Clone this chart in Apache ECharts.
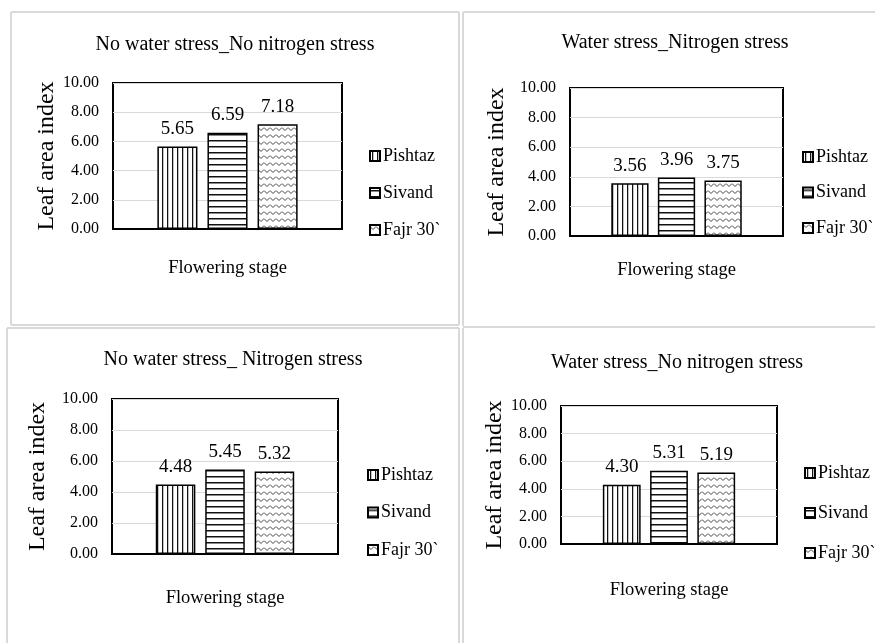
<!DOCTYPE html>
<html><head><meta charset="utf-8">
<script src="https://cdn.jsdelivr.net/npm/echarts@6/dist/echarts.min.js"></script>
<style>html,body{margin:0;padding:0;background:#fff}#c{width:875px;height:643px}</style>
</head><body><div id="c"></div>
<script>
// ---- data ----
const varieties = ['Pishtaz', 'Sivand', 'Fajr 30`'];
const panelTitles = ['No water stress_No nitrogen stress', 'Water stress_Nitrogen stress', 'No water stress_ Nitrogen stress', 'Water stress_No nitrogen stress'];
const stage = ['Flowering stage'];
const yName = 'Leaf area index';
const pishtaz = [5.65, 3.56, 4.48, 4.30];
const sivand = [6.59, 3.96, 5.45, 5.31];
const fajr = [7.18, 3.75, 5.32, 5.19];
const yMin = 0, yMax = 10, yStep = 2;

// ---- layout (positions only) ----
const layout = [
  {grid: {left: 113, top: 83, width: 229, height: 146}, tx: 235, ty: 35, yGap: 53, xGap: 30, lx: 369, ly: 147, lg: 19},
  {grid: {left: 570, top: 88, width: 213, height: 148}, tx: 675, ty: 33, yGap: 61, xGap: 25, lx: 802, ly: 148, lg: 17.5},
  {grid: {left: 112, top: 399, width: 226, height: 155}, tx: 233, ty: 350, yGap: 62, xGap: 35, lx: 367, ly: 466, lg: 19.5},
  {grid: {left: 561, top: 406, width: 216, height: 138}, tx: 677, ty: 353, yGap: 54, xGap: 37, lx: 804, ly: 464, lg: 22}
];
const FONT = "'Liberation Serif', 'Times New Roman', serif";

// ---- fill patterns ----
function mk(w, h, draw) {
  const c = document.createElement('canvas'); c.width = w; c.height = h;
  const g = c.getContext('2d'); g.fillStyle = '#fff'; g.fillRect(0, 0, w, h); draw(g); return c;
}
const patV = mk(5, 4, g => { g.fillStyle = '#111'; g.fillRect(2, 0, 1, 4); g.fillStyle = '#999'; g.fillRect(3, 0, 0.6, 4); });
const patH = mk(4, 6, g => { g.fillStyle = '#111'; g.fillRect(0, 2, 4, 1); g.fillStyle = '#888'; g.fillRect(0, 3, 4, 1); });
const patZ = mk(6, 7, g => { g.strokeStyle = '#444'; g.lineWidth = 1; g.beginPath(); g.moveTo(0, 1.5); g.lineTo(3, 4.5); g.lineTo(6, 1.5); g.stroke(); });
const pats = [patV, patH, patZ];
const values = [pishtaz, sivand, fajr];

const option = {
  backgroundColor: '#fff',
  animation: false,
  title: [], grid: [], xAxis: [], yAxis: [], legend: [], series: [],
  graphic: []
};
const lineStyle = {stroke: '#d9d9d9', lineWidth: 2};
[[11, 12, 459, 12], [11, 12, 11, 325], [11, 325, 459, 325], [459, 12, 459, 325],
 [463, 12, 880, 12], [463, 12, 463, 326], [463, 327, 880, 327],
 [7, 328, 459, 328], [7, 328, 7, 650], [459, 328, 459, 650], [463, 328, 463, 650]
].forEach(s => option.graphic.push({type: 'line', shape: {x1: s[0], y1: s[1], x2: s[2], y2: s[3]}, style: lineStyle, silent: true}));

layout.forEach((L, i) => {
  option.title.push({text: panelTitles[i], left: L.tx, top: L.ty, textAlign: 'center', padding: 0,
    textStyle: {fontFamily: FONT, fontSize: 20, fontWeight: 'normal', color: '#000'}});
  option.grid.push(Object.assign({show: true, borderColor: '#000', borderWidth: 2, backgroundColor: '#fff', containLabel: false}, L.grid));
  option.xAxis.push({type: 'category', gridIndex: i, data: stage, name: stage[0], nameLocation: 'middle', nameGap: L.xGap,
    nameTextStyle: {fontFamily: FONT, fontSize: 18.5, color: '#000'},
    axisLabel: {show: false}, axisTick: {show: false}, axisLine: {lineStyle: {color: '#000', width: 2}}});
  option.yAxis.push({type: 'value', gridIndex: i, min: yMin, max: yMax, interval: yStep, name: yName, nameLocation: 'middle', nameGap: L.yGap,
    nameTextStyle: {fontFamily: FONT, fontSize: 24, color: '#000'},
    axisLabel: {formatter: v => v.toFixed(2), fontFamily: FONT, fontSize: 16, color: '#000', margin: 14},
    axisLine: {show: false}, axisTick: {show: false}, splitLine: {lineStyle: {color: '#d9d9d9', width: 1}}});
  option.legend.push({data: varieties, orient: 'vertical', left: L.lx, top: L.ly, itemGap: L.lg, itemWidth: 10, itemHeight: 10, padding: 0,
    icon: 'rect', textStyle: {fontFamily: FONT, fontSize: 18, color: '#000', padding: [0, 0, 0, -2]}, selectedMode: false});
  varieties.forEach((name, k) => {
    option.series.push({type: 'bar', name: name, xAxisIndex: i, yAxisIndex: i, data: [values[k][i]],
      barWidth: '17.5%', barGap: '25%',
      itemStyle: {color: {image: pats[k], repeat: 'repeat'}, borderColor: '#000', borderWidth: 1.5},
      label: {show: true, position: 'top', distance: 8, formatter: p => p.value.toFixed(2), fontFamily: FONT, fontSize: 19, color: '#000'}});
  });
});

const chart = echarts.init(document.getElementById('c'));
chart.setOption(option);
</script></body></html>
